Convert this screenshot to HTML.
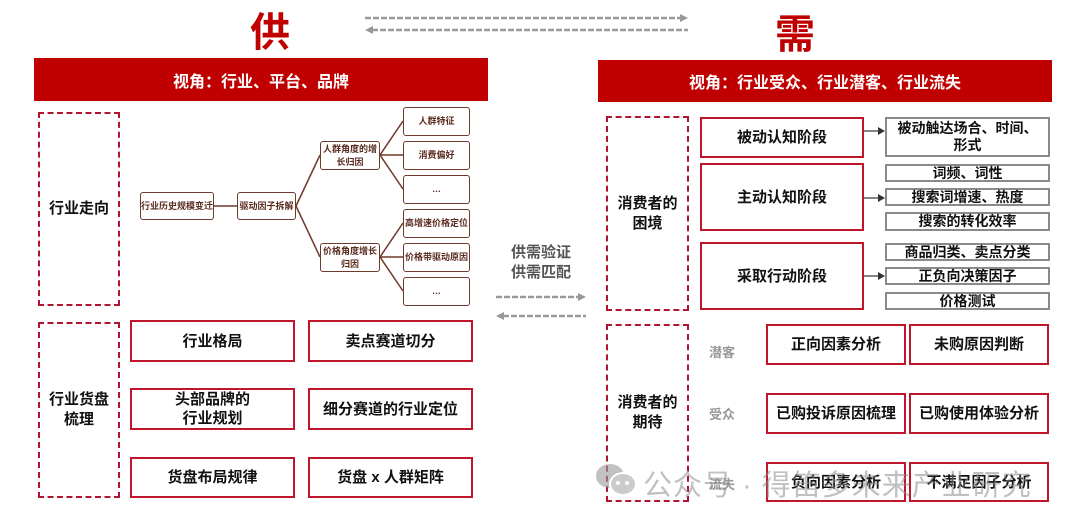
<!DOCTYPE html>
<html><head><meta charset="utf-8"><style>
body{margin:0;width:1080px;height:523px;background:#fff;position:relative;overflow:hidden;font-family:"Liberation Sans","Noto Sans CJK SC",sans-serif;}
.a{position:absolute;box-sizing:border-box;display:flex;align-items:center;justify-content:center;text-align:center;}
.r{border:2px solid #c0152a;font-weight:bold;font-size:15px;color:#111;line-height:19px;}
.g{border:2px solid #8a8a8a;font-weight:bold;font-size:14px;color:#111;line-height:17px;}
.d{border:2px dashed #b01530;font-weight:bold;font-size:15px;color:#111;line-height:20px;}
.t{border:1.5px solid #6e3a2c;border-radius:3px;font-size:9px;color:#5a2a1e;line-height:13px;font-weight:bold;}
.bar{background:#c00000;color:#fff;font-weight:bold;font-size:16px;}
.lbl{position:absolute;font-size:13px;color:#999;font-weight:bold;}
</style></head><body>
<div class="a" style="left:240px;top:4px;width:60px;height:50px;color:#c00000;font-size:40px;font-weight:bold;">供</div>
<div class="a" style="left:765px;top:6px;width:60px;height:50px;color:#c00000;font-size:40px;font-weight:bold;">需</div>
<svg width="1080" height="523" style="position:absolute;left:0;top:0">
<g stroke="#999" stroke-width="2.5" stroke-dasharray="6,2" fill="none">
<line x1="365" y1="18" x2="682" y2="18"/><line x1="372" y1="30" x2="688" y2="30"/>
<line x1="496" y1="297" x2="580" y2="297"/><line x1="503" y1="316" x2="586" y2="316"/>
</g>
<g fill="#999"><polygon points="688,18 680,14 680,22"/><polygon points="365,30 373,26 373,34"/>
<polygon points="586,297 578,293 578,301"/><polygon points="496,316 504,312 504,320"/></g>
<g stroke="#6e3a2c" stroke-width="1.5" fill="none">
<line x1="214" y1="206" x2="237" y2="206"/>
<line x1="296" y1="206" x2="320" y2="155"/><line x1="296" y1="206" x2="320" y2="257"/>
<line x1="380" y1="155" x2="403" y2="121"/><line x1="380" y1="155" x2="403" y2="155"/><line x1="380" y1="155" x2="403" y2="189"/>
<line x1="380" y1="257" x2="403" y2="223"/><line x1="380" y1="257" x2="403" y2="257"/><line x1="380" y1="257" x2="403" y2="291"/>
</g>
<g stroke="#333" stroke-width="1.2"><line x1="864" y1="131" x2="880" y2="131"/><line x1="864" y1="198" x2="880" y2="198"/><line x1="864" y1="276" x2="880" y2="276"/></g>
<g fill="#333"><polygon points="885,131 878,127 878,135"/><polygon points="885,198 878,194 878,202"/><polygon points="885,276 878,272 878,280"/></g>
</svg>
<div class="a bar" style="left:34px;top:58px;width:454px;height:43px;">视角：行业、平台、品牌</div>
<div class="a bar" style="left:598px;top:60px;width:454px;height:42px;">视角：行业受众、行业潜客、行业流失</div>

<div class="a d" style="left:38px;top:112px;width:82px;height:194px;">行业走向</div>
<div class="a d" style="left:38px;top:322px;width:82px;height:176px;">行业货盘<br>梳理</div>

<div class="a t" style="left:140px;top:192px;width:74px;height:28px;">行业历史规模变迁</div>
<div class="a t" style="left:237px;top:192px;width:59px;height:28px;">驱动因子拆解</div>
<div class="a t" style="left:320px;top:141px;width:60px;height:29px;">人群角度的增<br>长归因</div>
<div class="a t" style="left:320px;top:243px;width:60px;height:29px;">价格角度增长<br>归因</div>
<div class="a t" style="left:403px;top:107px;width:67px;height:29px;">人群特征</div>
<div class="a t" style="left:403px;top:141px;width:67px;height:29px;">消费偏好</div>
<div class="a t" style="left:403px;top:175px;width:67px;height:29px;">…</div>
<div class="a t" style="left:403px;top:209px;width:67px;height:29px;">高增速价格定位</div>
<div class="a t" style="left:403px;top:243px;width:67px;height:29px;">价格带驱动原因</div>
<div class="a t" style="left:403px;top:277px;width:67px;height:29px;">…</div>

<div class="a r" style="left:130px;top:320px;width:165px;height:42px;">行业格局</div>
<div class="a r" style="left:308px;top:320px;width:165px;height:42px;">卖点赛道切分</div>
<div class="a r" style="left:130px;top:388px;width:165px;height:42px;">头部品牌的<br>行业规划</div>
<div class="a r" style="left:308px;top:388px;width:165px;height:42px;">细分赛道的行业定位</div>
<div class="a r" style="left:130px;top:457px;width:165px;height:41px;">货盘布局规律</div>
<div class="a r" style="left:308px;top:457px;width:165px;height:41px;">货盘 x 人群矩阵</div>

<div class="a" style="left:496px;top:242px;width:90px;height:42px;font-size:15px;font-weight:bold;color:#555;line-height:20px;">供需验证<br>供需匹配</div>

<div class="a d" style="left:606px;top:116px;width:83px;height:195px;">消费者的<br>困境</div>
<div class="a d" style="left:606px;top:324px;width:83px;height:178px;">消费者的<br>期待</div>

<div class="a r" style="left:700px;top:117px;width:164px;height:41px;">被动认知阶段</div>
<div class="a r" style="left:700px;top:163px;width:164px;height:68px;">主动认知阶段</div>
<div class="a r" style="left:700px;top:242px;width:164px;height:68px;">采取行动阶段</div>
<div class="a g" style="left:885px;top:117px;width:165px;height:40px;">被动触达场合、时间、<br>形式</div>
<div class="a g" style="left:885px;top:164px;width:165px;height:18px;">词频、词性</div>
<div class="a g" style="left:885px;top:188px;width:165px;height:18px;">搜索词增速、热度</div>
<div class="a g" style="left:885px;top:212px;width:165px;height:19px;">搜索的转化效率</div>
<div class="a g" style="left:885px;top:243px;width:165px;height:18px;">商品归类、卖点分类</div>
<div class="a g" style="left:885px;top:267px;width:165px;height:18px;">正负向决策因子</div>
<div class="a g" style="left:885px;top:292px;width:165px;height:18px;">价格测试</div>

<div class="lbl" style="left:709px;top:342px;">潜客</div>
<div class="lbl" style="left:709px;top:404px;">受众</div>
<div class="lbl" style="left:709px;top:474px;">流失</div>
<div class="a r" style="left:766px;top:324px;width:140px;height:41px;">正向因素分析</div>
<div class="a r" style="left:909px;top:324px;width:140px;height:41px;">未购原因判断</div>
<div class="a r" style="left:766px;top:393px;width:140px;height:41px;">已购投诉原因梳理</div>
<div class="a r" style="left:909px;top:393px;width:140px;height:41px;">已购使用体验分析</div>
<div class="a r" style="left:766px;top:462px;width:140px;height:40px;">负向因素分析</div>
<div class="a r" style="left:909px;top:462px;width:140px;height:40px;">不满足因子分析</div>

<svg width="50" height="40" style="position:absolute;left:593px;top:460px;opacity:.6">
<ellipse cx="17" cy="16" rx="14" ry="12" fill="#999"/><ellipse cx="30" cy="24" rx="13" ry="11" fill="#aaa" stroke="#fff" stroke-width="2"/>
<circle cx="25" cy="23" r="2" fill="#fff"/><circle cx="34" cy="23" r="2" fill="#fff"/>
</svg>
<div style="position:absolute;left:643px;top:462px;font-size:29px;color:rgba(140,140,140,.55);white-space:nowrap;letter-spacing:1px;">公众号 · 得笛多未来产业研究</div>
</body></html>
